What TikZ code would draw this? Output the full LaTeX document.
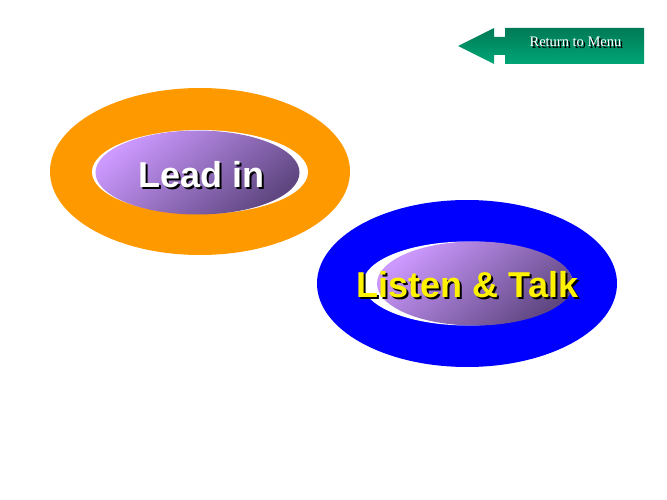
\documentclass[tikz,border=0pt]{standalone}
\usepackage{fontspec}
\setmainfont{Liberation Serif}
\setsansfont{Liberation Sans}
\usepackage{tikz}
\usetikzlibrary{positioning, shapes.geometric}
\usepackage{xcolor}

\definecolor{ringorange}{HTML}{FF9900}
\definecolor{ringblue}{HTML}{0000FF}
\definecolor{lavlight}{HTML}{CC99FF}
\definecolor{lavdark}{HTML}{5E4680}
\definecolor{btnlight}{HTML}{3CF0B8}
\definecolor{btndark}{HTML}{00A676}
\definecolor{btndeep}{HTML}{007A56}

\newcommand{\dropsh}[2]{\rlap{\kern2pt\raisebox{-2pt}{\color{black}#2}}{\color{#1}#2}}

\begin{document}
\begin{tikzpicture}[x=1pt, y=-1pt,
                  ring/.style={ellipse, inner sep=0pt, minimum width=300pt, minimum height=167pt},
                  hole/.style={ellipse, fill=white, inner sep=0pt},
                  pill/.style={ellipse, inner sep=0pt, top color=lavlight, bottom color=lavdark, shading angle=40},
                  title/.style={font=\sffamily\bfseries\fontsize{36}{36}\selectfont, inner sep=0pt, anchor=base},
                  btntxt/.style={font=\fontsize{14.5}{14.5}\selectfont, inner sep=0pt, anchor=base},
            ]
            \useasboundingbox (0,0) rectangle (667,500);

            \node[ring, fill=ringorange] (leadring) at (200,171.5) {};
            \node[hole, minimum width=216pt, minimum height=84pt] (leadhole) at (200,172) {};
            \node[pill, minimum width=204pt, minimum height=84pt] (leadpill) at (197.5,172.5) {};
            \node[title] (lead) at (201.5,187) {\dropsh{white}{Lead in}};

            \node[ring, fill=ringblue] (talkring) at (467,283.5) {};
            \node[hole, minimum width=210pt, minimum height=84pt] (talkhole) at (468,283.5) {};
            \node[pill, minimum width=196pt, minimum height=84pt] (talkpill) at (475,283.5) {};
            \node[title] (talk) at (467.5,297) {\dropsh{yellow}{Listen \& Talk}};

            \shade[top color=btndeep, middle color=btnlight, bottom color=btndark]
                  (458,46) -- (494,28) -- (494,37) -- (505,37) -- (505,28) -- (644,28)
                  -- (644,64) -- (505,64) -- (505,55) -- (494,55) -- (494,64) -- cycle;
            \node[btntxt] (menu) at (575.5,47) {\dropsh{white}{Return to Menu}};

      \end{tikzpicture}
\end{document}
